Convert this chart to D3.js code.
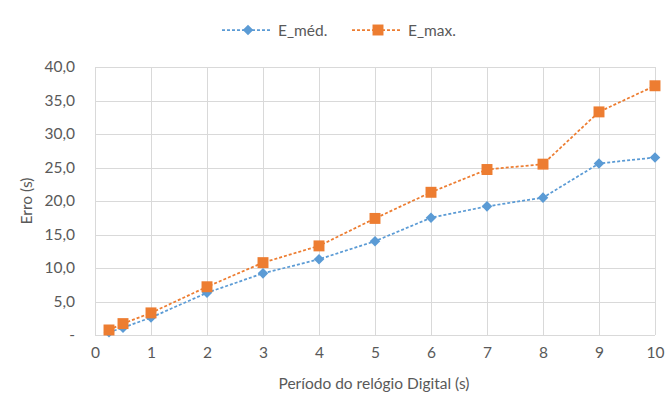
<!DOCTYPE html>
<html>
<head>
<meta charset="utf-8">
<script src="https://cdn.jsdelivr.net/npm/d3@7/dist/d3.min.js"></script>
<style>
  html, body { margin: 0; padding: 0; background: #fff; }
  svg { display: block; }
  text { font-family: Lato, "Open Sans", sans-serif; fill: #595959; }
</style>
</head>
<body>
<script>
// Período do relógio (s)
const periods = [0.25, 0.5, 1, 2, 3, 4, 5, 6, 7, 8, 9, 10];
// Erro médio e máximo (s)
const eMed = [0.4, 1.1, 2.6, 6.3, 9.2, 11.3, 14.0, 17.5, 19.2, 20.5, 25.6, 26.5];
const eMax = [0.75, 1.7, 3.3, 7.2, 10.8, 13.3, 17.4, 21.3, 24.7, 25.5, 33.3, 37.2];
const xTicks = [0, 1, 2, 3, 4, 5, 6, 7, 8, 9, 10];
const yTicks = [0, 5, 10, 15, 20, 25, 30, 35, 40];
const seriesNames = ["E_méd.", "E_max."];

const W = 672, H = 414;
const m = { left: 95, right: 17, top: 67, bottom: 79 };
const fontSize = "15.5px";

const svg = d3.select("body").append("svg").attr("width", W).attr("height", H);

const x = d3.scaleLinear().domain([0, 10]).range([m.left, W - m.right]);
const y = d3.scaleLinear().domain([0, 40]).range([H - m.bottom, m.top]);

const fmt = v => v === 0 ? "-" : d3.format(".1f")(v).replace(".", ",");

// grid
const grid = svg.append("g").attr("stroke", "#d9d9d9").attr("stroke-width", 1);
grid.selectAll("line.h").data(yTicks).join("line")
  .attr("x1", x(0)).attr("x2", x(10))
  .attr("y1", d => Math.round(y(d)) + 0.5).attr("y2", d => Math.round(y(d)) + 0.5);
grid.selectAll("line.v").data(xTicks).join("line")
  .attr("y1", y(0)).attr("y2", y(40))
  .attr("x1", d => Math.round(x(d)) + 0.5).attr("x2", d => Math.round(x(d)) + 0.5);

// axes (labels only)
const yAxis = d3.axisLeft(y).tickValues(yTicks).tickFormat(fmt).tickSize(0).tickPadding(20);
svg.append("g").attr("transform", `translate(${m.left},0)`).call(yAxis)
  .call(g => g.select(".domain").remove())
  .selectAll("text").style("font-size", fontSize).attr("fill", "#595959");

const xAxis = d3.axisBottom(x).tickValues(xTicks).tickFormat(d3.format("d")).tickSize(0).tickPadding(12);
svg.append("g").attr("transform", `translate(0,${y(0)})`).call(xAxis)
  .call(g => g.select(".domain").remove())
  .selectAll("text").style("font-size", fontSize).attr("fill", "#595959");

// axis titles
svg.append("text").attr("x", 374).attr("y", 389)
  .attr("text-anchor", "middle").style("font-size", fontSize)
  .text("Período do relógio Digital (s)");
svg.append("text").attr("transform", `translate(32,${(y(0) + y(40)) / 2}) rotate(-90)`)
  .attr("text-anchor", "middle").style("font-size", fontSize)
  .text("Erro (s)");

const colors = ["#5b9bd5", "#ed7d31"];
const series = [eMed, eMax];

const line = d3.line().x((d, i) => x(periods[i])).y(d => y(d));

// square markers; the diamond is a square turned by 45°
const markerSize = [56, 120];
const rotation = [45, 0];
const marker = s => d3.symbol().type(d3.symbolSquare).size(markerSize[s])();

series.forEach((vals, s) => {
  svg.append("path").datum(vals)
    .attr("fill", "none").attr("stroke", colors[s])
    .attr("stroke-width", 1.75).attr("stroke-dasharray", "3,2")
    .attr("d", line);
});
series.forEach((vals, s) => {
  svg.append("g").selectAll("path").data(vals).join("path")
    .attr("transform", (d, i) => `translate(${x(periods[i])},${y(d)}) rotate(${rotation[s]})`)
    .attr("d", marker(s)).attr("fill", colors[s]);
});

// legend
const legendX = [222, 352];
seriesNames.forEach((name, s) => {
  const g = svg.append("g").attr("transform", `translate(${legendX[s]},30)`);
  g.append("line").attr("x1", 0).attr("x2", 50).attr("y1", 0).attr("y2", 0)
    .attr("stroke", colors[s]).attr("stroke-width", 1.75).attr("stroke-dasharray", "3,2");
  g.append("path").attr("transform", `translate(26,0) rotate(${rotation[s]})`)
    .attr("d", marker(s)).attr("fill", colors[s]);
  g.append("text").attr("x", 56).attr("y", 5.5).style("font-size", fontSize).text(name);
});
</script>
</body>
</html>
